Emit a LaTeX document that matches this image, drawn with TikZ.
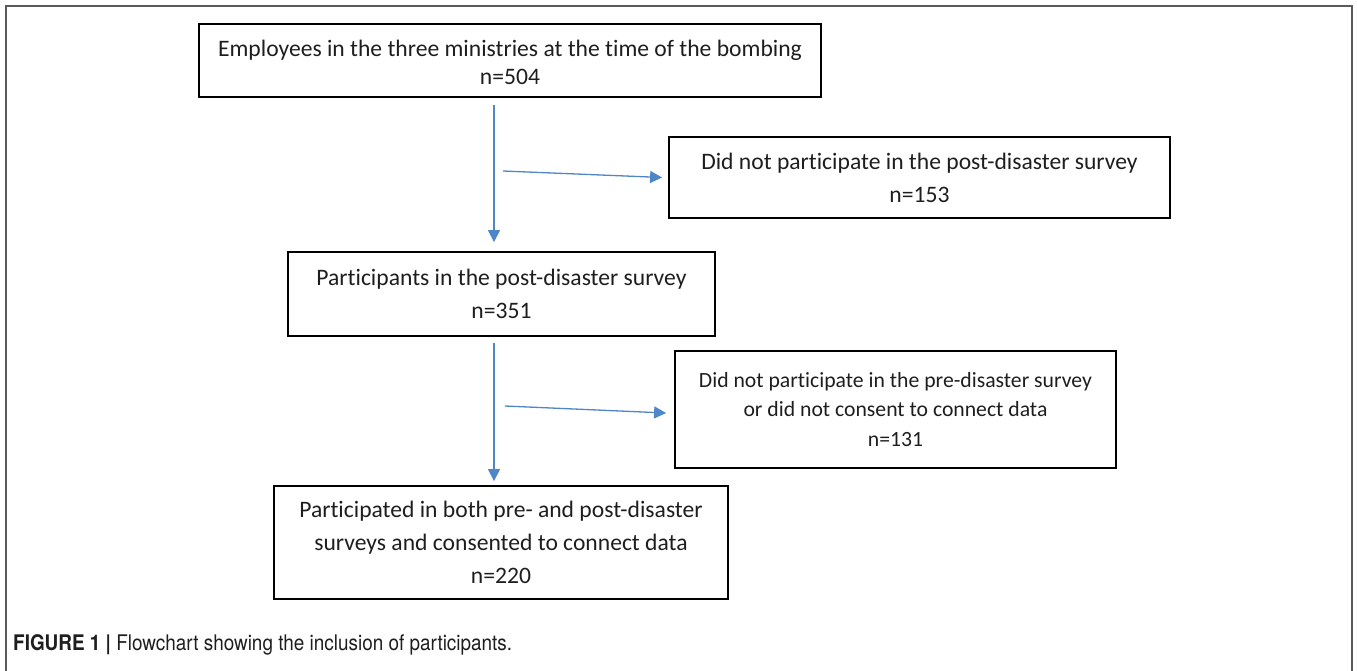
\documentclass[tikz,border=0pt]{standalone}
\usepackage{fontspec}
\setmainfont{Carlito}[Ligatures=NoCommon]
\newfontfamily\capfont[FakeStretch=0.88]{TeX Gyre Heros}
\usetikzlibrary{arrows.meta}
\definecolor{arrblue}{RGB}{79,134,198}
\definecolor{txtgray}{RGB}{30,30,30}
\definecolor{framegray}{RGB}{90,90,90}
\tikzset{
  flowbox/.style={draw=black, line width=1.8pt, rectangle, inner sep=0pt, align=center, text=txtgray},
  boxtext/.style={inner sep=0pt, align=center, text=txtgray},
  bigtxt/.style={font=\fontsize{23.6}{33}\selectfont},
  tighttxt/.style={font=\fontsize{23.6}{28}\selectfont},
  smalltxt/.style={font=\fontsize{21.7}{29.5}\selectfont},
  arr/.style={draw=arrblue, line width=1.3pt, -{Triangle[length=12pt,width=12pt]}},
}
\begin{document}
\begin{tikzpicture}[x=1pt,y=-1pt]
\useasboundingbox (0,0) rectangle (1358,670);
\draw[framegray, line width=1.4pt] (6,675) -- (6,6) -- (1352,6) -- (1352,675);
\node[flowbox, minimum width=622pt, minimum height=73pt] (b1) at (510,60.5) {};
\node[boxtext, tighttxt] (b1t) at (510,62.7)
  {Employees in the three ministries at the time of the bombing\\n=504};
\node[flowbox, bigtxt, minimum width=501pt, minimum height=81pt] (b1r) at (919.5,177.5)
  {Did not participate in the post-disaster survey\\n=153};
\node[flowbox, bigtxt, minimum width=427pt, minimum height=84pt] (b2) at (501.5,294)
  {Participants in the post-disaster survey\\n=351};
\node[flowbox, smalltxt, minimum width=441pt, minimum height=117pt] (b2r) at (895.5,409.5)
  {Did not participate in the pre-disaster survey\\or did not consent to connect data\\n=131};
\node[flowbox, bigtxt, minimum width=454pt, minimum height=113pt] (b3) at (501,542.5)
  {Participated in both pre- and post-disaster\\surveys and consented to connect data\\n=220};
\coordinate (s1) at (503,171);
\coordinate (s2) at (505,406);
\draw[arr] ([xshift=-16pt,yshift=-7pt]b1.south) -- ([xshift=-7.5pt,yshift=9pt]b2.north);
\draw[arr] (s1) -- ([xshift=-6pt]b1r.west);
\draw[arr] ([xshift=-7.5pt,yshift=-6pt]b2.south) -- ([xshift=-7pt,yshift=4pt]b3.north);
\draw[arr] (s2) -- ([xshift=-8pt,yshift=-3.5pt]b2r.west);
\node[anchor=base west, inner sep=0pt, text=txtgray, font=\capfont\fontsize{21.5}{24}\selectfont] (cap) at (13,650)
  {\textbf{FIGURE 1 |} Flowchart showing the inclusion of participants.};
\end{tikzpicture}
\end{document}
